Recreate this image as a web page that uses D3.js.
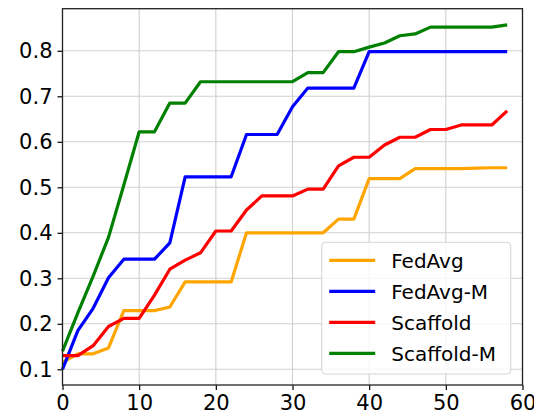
<!DOCTYPE html>
<html>
<head>
<meta charset="utf-8">
<script src="https://d3js.org/d3.v7.min.js"></script>
<style>
  body { margin: 0; background: #fff; }
  text { font-family: "DejaVu Sans", sans-serif; fill: #000; }
</style>
</head>
<body>
<div id="chart"></div>
<script>
// Chart data
var rounds = [0, 2, 4, 6, 8, 10, 12, 14, 16, 18, 20, 22, 24, 26, 28,
              30, 32, 34, 36, 38, 40, 42, 44, 46, 48, 50, 52, 54, 56, 58];

var fedAvg = [0.115, 0.134, 0.134, 0.147, 0.229, 0.229, 0.229, 0.237, 0.292, 0.292,
              0.292, 0.292, 0.400, 0.400, 0.400, 0.400, 0.400, 0.400, 0.430, 0.430,
              0.519, 0.519, 0.519, 0.541, 0.541, 0.541, 0.541, 0.542, 0.543, 0.543];

var fedAvgM = [0.100, 0.185, 0.234, 0.301, 0.342, 0.342, 0.342, 0.378, 0.523, 0.523,
               0.523, 0.523, 0.616, 0.616, 0.616, 0.677, 0.718, 0.718, 0.718, 0.718,
               0.798, 0.798, 0.798, 0.798, 0.798, 0.798, 0.798, 0.798, 0.798, 0.798];

var scaffold = [0.130, 0.130, 0.152, 0.194, 0.212, 0.212, 0.263, 0.320, 0.340, 0.356,
                0.404, 0.404, 0.450, 0.481, 0.481, 0.481, 0.496, 0.496, 0.547, 0.566,
                0.566, 0.593, 0.610, 0.610, 0.627, 0.627, 0.637, 0.637, 0.637, 0.668];

var scaffoldM = [0.140, 0.224, 0.305, 0.390, 0.505, 0.622, 0.622, 0.685, 0.685, 0.732,
                 0.732, 0.732, 0.732, 0.732, 0.732, 0.732, 0.752, 0.752, 0.798, 0.798,
                 0.808, 0.817, 0.833, 0.837, 0.852, 0.852, 0.852, 0.852, 0.852, 0.857];

var seriesNames = ["FedAvg", "FedAvg-M", "Scaffold", "Scaffold-M"];
var seriesColors = ["orange", "blue", "red", "green"];
var seriesValues = [fedAvg, fedAvgM, scaffold, scaffoldM];

var xTicks = [0, 10, 20, 30, 40, 50, 60];
var yTicks = [0.1, 0.2, 0.3, 0.4, 0.5, 0.6, 0.7, 0.8];

// sizing
var svgWidth = 534;
var svgHeight = 414;

var margin = { top: 8.7, right: 11.5, bottom: 29, left: 62.5 };
var width = svgWidth - margin.left - margin.right;
var height = svgHeight - margin.top - margin.bottom;

var svg = d3.select("#chart")
  .append("svg")
  .attr("width", svgWidth)
  .attr("height", svgHeight);

var chartGroup = svg.append("g")
  .attr("transform", `translate(${margin.left}, ${margin.top})`);

// scales
var xScale = d3.scaleLinear()
  .domain([0, 60])
  .range([0, width]);

var yScale = d3.scaleLinear()
  .domain([0.0655, 0.8925])
  .range([height, 0]);

// grid lines
chartGroup.append("g")
  .selectAll("line")
  .data(xTicks)
  .enter()
  .append("line")
  .attr("x1", d => xScale(d))
  .attr("x2", d => xScale(d))
  .attr("y1", 0)
  .attr("y2", height)
  .attr("stroke", "#d0d0d0")
  .attr("stroke-width", 1.1);

chartGroup.append("g")
  .selectAll("line")
  .data(yTicks)
  .enter()
  .append("line")
  .attr("x1", 0)
  .attr("x2", width)
  .attr("y1", d => yScale(d))
  .attr("y2", d => yScale(d))
  .attr("stroke", "#d0d0d0")
  .attr("stroke-width", 1.1);

// series lines
var line = d3.line()
  .x((d, i) => xScale(rounds[i]))
  .y(d => yScale(d));

seriesValues.forEach(function(vals, i) {
  chartGroup.append("path")
    .datum(vals)
    .attr("d", line)
    .attr("fill", "none")
    .attr("stroke", seriesColors[i])
    .attr("stroke-width", 3.2)
    .attr("stroke-linejoin", "round");
});

// axes
var bottomAxis = d3.axisBottom(xScale)
  .tickValues(xTicks)
  .tickFormat(d3.format("d"))
  .tickSize(5)
  .tickPadding(5);

var leftAxis = d3.axisLeft(yScale)
  .tickValues(yTicks)
  .tickFormat(d3.format(".1f"))
  .tickSize(5)
  .tickPadding(5);

var xAxis = chartGroup.append("g")
  .attr("transform", `translate(0, ${height})`)
  .call(bottomAxis);

var yAxis = chartGroup.append("g")
  .call(leftAxis);

[xAxis, yAxis].forEach(function(ax) {
  ax.select(".domain").remove();
  ax.selectAll(".tick line").attr("stroke", "#000").attr("stroke-width", 1.2);
  ax.selectAll("text")
    .attr("font-size", "21px")
    .attr("font-family", "DejaVu Sans, sans-serif")
    .attr("fill", "#000");
});

// frame
chartGroup.append("rect")
  .attr("x", 0)
  .attr("y", 0)
  .attr("width", width)
  .attr("height", height)
  .attr("fill", "none")
  .attr("stroke", "#222")
  .attr("stroke-width", 1.3);

// legend
var legend = chartGroup.append("g")
  .attr("transform", `translate(${321.7 - margin.left}, ${242.3 - margin.top})`);

legend.append("rect")
  .attr("width", 189)
  .attr("height", 131.7)
  .attr("rx", 4)
  .attr("fill", "#fff")
  .attr("fill-opacity", 0.8)
  .attr("stroke", "#d6d6d6")
  .attr("stroke-width", 1.1);

var legendRows = legend.selectAll(".row")
  .data(seriesNames)
  .enter()
  .append("g")
  .attr("class", "row")
  .attr("transform", (d, i) => `translate(0, ${18 + i * 31})`);

legendRows.append("line")
  .attr("x1", 7.5)
  .attr("x2", 53.5)
  .attr("y1", 0)
  .attr("y2", 0)
  .attr("stroke", (d, i) => seriesColors[i])
  .attr("stroke-width", 3.2);

legendRows.append("text")
  .attr("x", 69.5)
  .attr("y", 0)
  .attr("dy", "0.36em")
  .attr("font-size", "20px")
  .text(d => d);
</script>
</body>
</html>
